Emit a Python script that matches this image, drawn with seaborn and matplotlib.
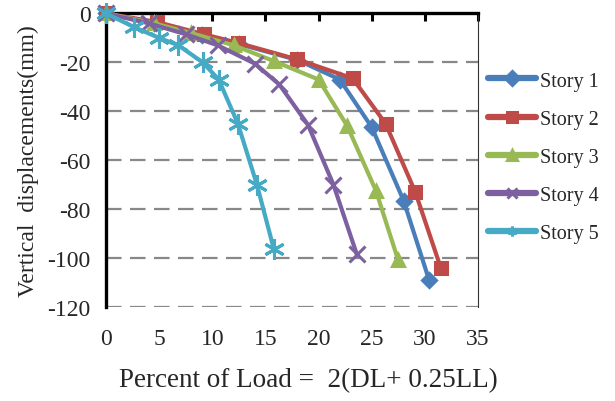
import numpy as np
import pandas as pd
import seaborn as sns
from matplotlib import pyplot as plt

stories = ['Story 1', 'Story 2', 'Story 3', 'Story 4', 'Story 5']

load_1 = [0, 4.5, 9.0, 12.5, 18.0, 22.0, 25.0, 28.0, 30.4]
disp_1 = [0, -4.0, -9.0, -12.5, -19.0, -27.0, -46.5, -76.5, -109.0]

load_2 = [0, 4.8, 9.2, 12.4, 18.0, 23.2, 26.3, 29.1, 31.5]
disp_2 = [0, -3.5, -8.5, -12.0, -18.8, -26.5, -45.0, -73.0, -104.0]

load_3 = [0, 4.5, 8.0, 12.0, 15.8, 20.0, 22.7, 25.4, 27.5]
disp_3 = [0, -4.0, -8.0, -13.0, -19.5, -27.0, -46.0, -72.5, -101.0]

load_4 = [0, 4.0, 7.5, 10.5, 14.0, 16.3, 19.0, 21.4, 23.6]
disp_4 = [0, -4.0, -8.5, -13.0, -20.5, -29.0, -45.5, -70.0, -98.5]

load_5 = [0, 2.6, 5.0, 6.8, 9.1, 10.6, 12.4, 14.2, 15.8]
disp_5 = [0, -5.5, -10.0, -13.0, -20.0, -27.0, -45.0, -70.0, -96.5]

loads = [load_1, load_2, load_3, load_4, load_5]
disps = [disp_1, disp_2, disp_3, disp_4, disp_5]

colors = ['#4A7EBB', '#BE4B48', '#98B954', '#7D60A0', '#46AAC5']
marks = ['D', 's', '^', 'x', (6, 2, 0)]
msizes = [7, 9, 9, 12, 15]

sns.set_theme(style='white')
plt.rcParams['font.family'] = ['Liberation Serif', 'DejaVu Serif']
plt.rcParams['axes.unicode_minus'] = False

fig = plt.figure(figsize=(6.15, 4.02), dpi=100)
ax = fig.add_axes([0.1724, 0.234, 0.6048, 0.730])

for yv in [-20, -40, -60, -80, -100, -120]:
    ax.axhline(yv, color='#888888', lw=1.6, ls=(0, (7, 3.8)), zorder=1)

for name, xs, ys, c, m, ms in zip(stories, loads, disps, colors, marks, msizes):
    d = pd.DataFrame({'load': xs, 'disp': ys})
    sns.lineplot(data=d, x='load', y='disp', sort=False, estimator=None,
                 color=c, marker=m, markersize=ms, markeredgewidth=2.2,
                 markeredgecolor=c, lw=3.0, label=name, ax=ax,
                 clip_on=False, zorder=3)

ax.set_xlim(0, 35)
ax.set_ylim(-120, 0)
ax.set_xticks(range(0, 36, 5))
ax.set_yticks(range(-120, 1, 20))

for s in ['left', 'top']:
    ax.spines[s].set_color('black')
    ax.spines[s].set_linewidth(2.4)
ax.spines['right'].set_color('#333333')
ax.spines['right'].set_linewidth(0.8)
ax.spines['bottom'].set_visible(False)

ax.tick_params(axis='x', top=True, bottom=False, labeltop=False, labelbottom=True,
               direction='in', length=6, width=2.2, color='black',
               labelsize=17, pad=15)
ax.tick_params(axis='y', left=False, labelsize=17, pad=5)

ax.set_xlabel('Percent of Load =  2(DL+ 0.25LL)', fontsize=19.5)
ax.xaxis.set_label_coords(0.545, -0.205)
ax.set_ylabel('Vertical  displacements(mm)', fontsize=17, labelpad=6)

leg = ax.legend(loc='upper left', bbox_to_anchor=(1.005, 0.83), frameon=False,
                fontsize=14.5, handlelength=2.4, labelspacing=0.95,
                handletextpad=0.2, borderaxespad=0)
for h in leg.legend_handles:
    h.set_linewidth(4.5)
    h.set_markersize(7)

fig.savefig('out.png', dpi=100)
